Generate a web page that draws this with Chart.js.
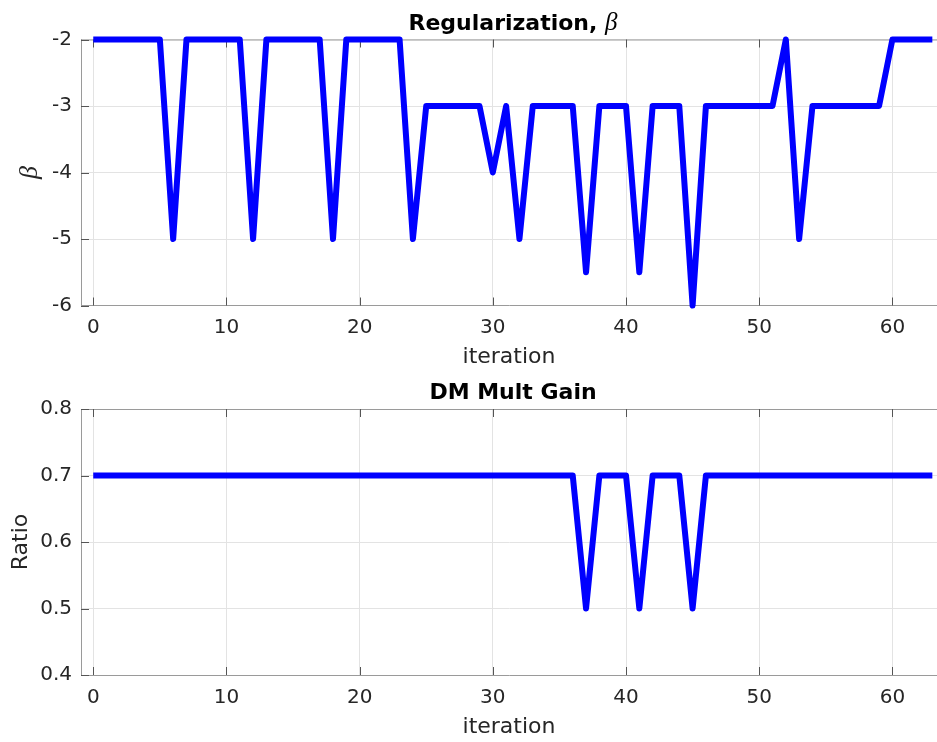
<!DOCTYPE html>
<html>
<head>
<meta charset="utf-8">
<script src="https://cdn.jsdelivr.net/npm/chart.js@4.4.1/dist/chart.umd.min.js"></script>
<style>
  body { margin: 0; background: #fff; width: 937px; height: 742px; overflow: hidden; position: relative; }
  .box { position: absolute; left: 0; width: 937px; }
</style>
</head>
<body>
<div class="box" style="top:0;height:372px"><canvas id="regChart" width="937" height="372"></canvas></div>
<div class="box" style="top:372px;height:370px"><canvas id="gainChart" width="937" height="370"></canvas></div>
<script>
// iteration numbers (x)
const iterations = [0,1,2,3,4,5,6,7,8,9,10,11,12,13,14,15,16,17,18,19,20,21,22,23,24,25,26,27,28,29,30,31,
  32,33,34,35,36,37,38,39,40,41,42,43,44,45,46,47,48,49,50,51,52,53,54,55,56,57,58,59,60,61,62,63]

// regularization beta per iteration
const beta = [-2,-2,-2,-2,-2,-2,-5,-2,-2,-2,-2,-2,-5,-2,-2,-2,-2,-2,-5,-2,-2,-2,-2,-2,-5,-3,-3,-3,-3,-3,-4,-3,
  -5,-3,-3,-3,-3,-5.5,-3,-3,-3,-5.5,-3,-3,-3,-6,-3,-3,-3,-3,-3,-3,-2,-5,-3,-3,-3,-3,-3,-3,-2,-2,-2,-2]

// DM mult gain ratio per iteration
const gain = [0.7,0.7,0.7,0.7,0.7,0.7,0.7,0.7,0.7,0.7,0.7,0.7,0.7,0.7,0.7,0.7,0.7,0.7,0.7,0.7,0.7,0.7,0.7,0.7,
  0.7,0.7,0.7,0.7,0.7,0.7,0.7,0.7,0.7,0.7,0.7,0.7,0.7,0.5,0.7,0.7,0.7,0.5,0.7,0.7,0.7,0.5,0.7,0.7,0.7,0.7,
  0.7,0.7,0.7,0.7,0.7,0.7,0.7,0.7,0.7,0.7,0.7,0.7,0.7,0.7]

const iterTicks = [0, 10, 20, 30, 40, 50, 60]
const betaTicks = [-6, -5, -4, -3, -2]
const gainTicks = [0.4, 0.5, 0.6, 0.7, 0.8]

const tickFont = { family: 'DejaVu Sans', size: 20 }
const labelFont = { family: 'DejaVu Sans', size: 22 }
const textColor = '#262626'

// box round the axes + inward tick marks, like matlab
const frame = {
  id: 'frame',
  beforeDatasetsDraw(chart) {
    const { ctx, chartArea: a, scales } = chart
    ctx.save()
    ctx.strokeStyle = '#9a9a9a'
    ctx.lineWidth = 1
    ctx.beginPath()
    ctx.moveTo(a.left, a.top + 0.5)
    ctx.lineTo(a.right, a.top + 0.5)
    ctx.stroke()
    ctx.strokeStyle = '#555'
    ctx.beginPath()
    scales.x.ticks.forEach(t => {
      const px = Math.round(scales.x.getPixelForValue(t.value)) + 0.5
      ctx.moveTo(px, a.bottom); ctx.lineTo(px, a.bottom - 8)
      ctx.moveTo(px, a.top); ctx.lineTo(px, a.top + 8)
    })
    scales.y.ticks.forEach(t => {
      const py = Math.round(scales.y.getPixelForValue(t.value)) + 0.5
      ctx.moveTo(a.left, py); ctx.lineTo(a.left + 8, py)
    })
    ctx.stroke()
    ctx.restore()
  }
}

// title with mixed fonts (bold text + italic greek)
const axTitle = {
  id: 'axTitle',
  afterDraw(chart, args, opts) {
    const { ctx } = chart
    ctx.save()
    ctx.fillStyle = '#000'
    ctx.textBaseline = 'alphabetic'
    let total = 0
    opts.parts.forEach(p => { ctx.font = p.font; p.w = ctx.measureText(p.text).width; total += p.w })
    let x = opts.x - total / 2
    opts.parts.forEach(p => {
      ctx.font = p.font
      ctx.textAlign = 'left'
      ctx.fillText(p.text, x, opts.y)
      x += p.w
    })
    ctx.restore()
  }
}

function makeChart(id, values, yTicks, yMin, yMax, yTitle, yTitleFont, yTitlePad, titleParts, titleY, top, height, bottom, fmt) {
  return new Chart(document.getElementById(id), {
    type: 'line',
    data: {
      datasets: [{
        data: iterations.map((x, i) => ({ x: x, y: values[i] })),
        borderColor: '#0000ff',
        borderWidth: 6,
        borderJoinStyle: 'round',
        pointRadius: 0,
        tension: 0,
        fill: false,
        clip: false
      }]
    },
    options: {
      responsive: false,
      animation: false,
      layout: { padding: { top: top, left: 0, right: 0, bottom: 0 } },
      plugins: {
        legend: { display: false },
        tooltip: { enabled: false },
        axTitle: { parts: titleParts, x: 513, y: titleY }
      },
      scales: {
        x: {
          type: 'linear',
          min: -0.92,
          max: 63.35,
          afterBuildTicks: s => { s.ticks = iterTicks.map(v => ({ value: v })) },
          afterFit: s => { s.height = height - bottom },
          grid: { color: '#e3e3e3', drawTicks: false },
          border: { color: '#9a9a9a' },
          ticks: { font: tickFont, color: textColor, padding: 10.5, maxRotation: 0, callback: v => String(v) },
          title: { display: true, text: 'iteration', font: labelFont, color: textColor, padding: { top: 0, bottom: 2 } }
        },
        y: {
          min: yMin,
          max: yMax,
          afterBuildTicks: s => { s.ticks = yTicks.map(v => ({ value: v })) },
          afterFit: s => { s.width = 81 },
          grid: { color: '#e3e3e3', drawTicks: false },
          border: { color: '#9a9a9a' },
          ticks: { font: tickFont, color: textColor, padding: 9, callback: fmt },
          title: { display: true, text: yTitle, font: yTitleFont, color: textColor, padding: { top: yTitlePad, bottom: 0 } }
        }
      }
    },
    plugins: [frame, axTitle]
  })
}

makeChart('regChart', beta, betaTicks, -6, -2, 'β',
  { family: 'Liberation Serif', size: 26, style: 'italic' }, 15,
  [
    { text: 'Regularization, ', font: 'bold 22px "DejaVu Sans"' },
    { text: 'β', font: 'italic 25px "Liberation Serif"' }
  ], 30, 39.5, 372, 305.5, v => String(v))

makeChart('gainChart', gain, gainTicks, 0.4, 0.8, 'Ratio', labelFont, 8,
  [{ text: 'DM Mult Gain', font: 'bold 22px "DejaVu Sans"' }], 27.3, 37, 370, 303, v => v.toFixed(1))
</script>
</body>
</html>
